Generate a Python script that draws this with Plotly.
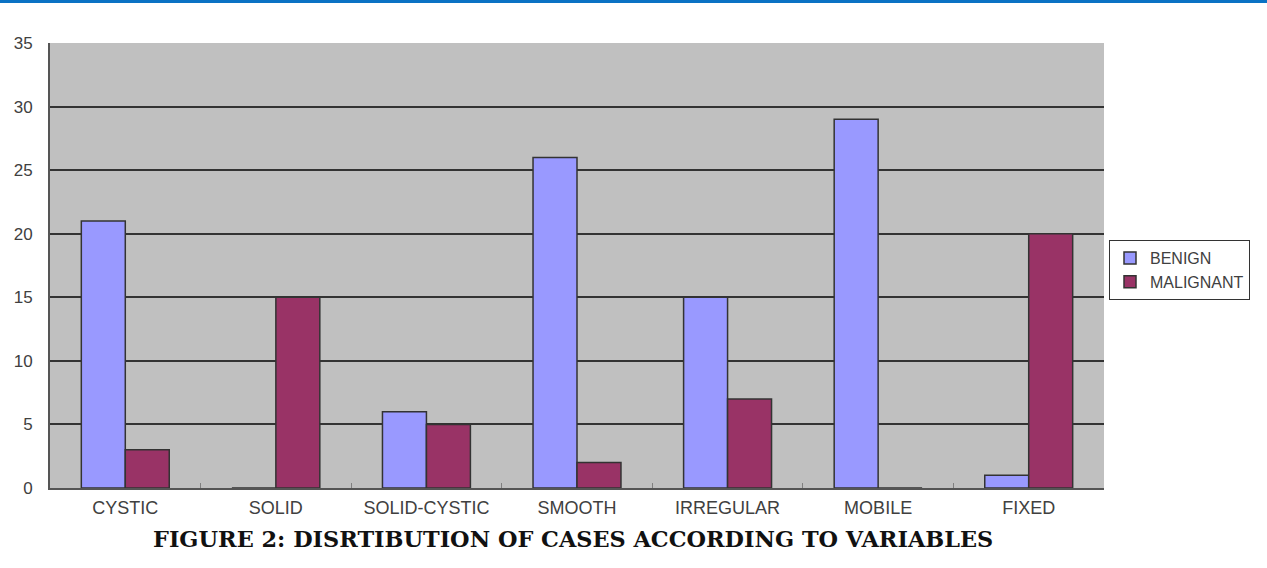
import plotly.graph_objects as go

categories = ["CYSTIC", "SOLID", "SOLID-CYSTIC", "SMOOTH", "IRREGULAR", "MOBILE", "FIXED"]
benign = [21, 0, 6, 26, 15, 29, 1]
malignant = [3, 15, 5, 2, 7, 0, 20]
y_ticks = [0, 5, 10, 15, 20, 25, 30, 35]
title_text = "FIGURE 2: DISRTIBUTION OF CASES ACCORDING TO VARIABLES"

W, H = 1267, 568
L, R, T, B = 50, 163, 43, 80
PW, PH = W - L - R, H - T - B

fig = go.Figure()
fig.add_trace(go.Bar(name="BENIGN", x=categories, y=benign,
                     marker=dict(color="#9999ff", line=dict(color="#333333", width=1.5))))
fig.add_trace(go.Bar(name="MALIGNANT", x=categories, y=malignant,
                     marker=dict(color="#993366", line=dict(color="#333333", width=1.5))))

fig.update_layout(
    width=W, height=H,
    margin=dict(l=L, r=R, t=T, b=B),
    paper_bgcolor="white",
    plot_bgcolor="#c0c0c0",
    barmode="group",
    bargap=0.416,
    bargroupgap=0,
    font=dict(family="Liberation Sans, Arial, sans-serif", size=17, color="#404040"),
    legend=dict(x=(1109 - L) / PW, y=(H - B - 240) / PH, xanchor="left", yanchor="top",
                bordercolor="#333333", borderwidth=1, bgcolor="white",
                font=dict(size=16, color="#404040"), itemwidth=30,
                tracegroupgap=0),
    showlegend=True,
    xaxis=dict(showline=True, linecolor="#555555", linewidth=2,
               ticks="inside", tickson="boundaries", ticklen=5, tickcolor="#808080",
               showgrid=False, ticklabelstandoff=2, tickfont=dict(size=18)),
    yaxis=dict(range=[0, 35], tickvals=y_ticks, showgrid=True, gridcolor="#333333",
               gridwidth=1.5, showline=True, linecolor="#555555", linewidth=2,
               zeroline=False, ticks="", ticklabelstandoff=12),
    shapes=[dict(type="line", xref="paper", yref="paper", x0=-L / PW, x1=(W - L) / PW,
                 y0=1 + (T - 1.5) / PH, y1=1 + (T - 1.5) / PH,
                 line=dict(color="#0a72c4", width=3))],
    annotations=[dict(text="<b>" + title_text + "</b>", xref="paper", yref="paper",
                      x=(573 - L) / PW, y=-(539 - (H - B)) / PH, xanchor="center", yanchor="middle",
                      showarrow=False,
                      font=dict(family="DejaVu Serif, serif", size=22.4, color="#111111"))],
)

fig.write_html("out.html", config={"displayModeBar": False},
               post_script="document.body.style.margin='0px';document.body.style.overflow='hidden';")
